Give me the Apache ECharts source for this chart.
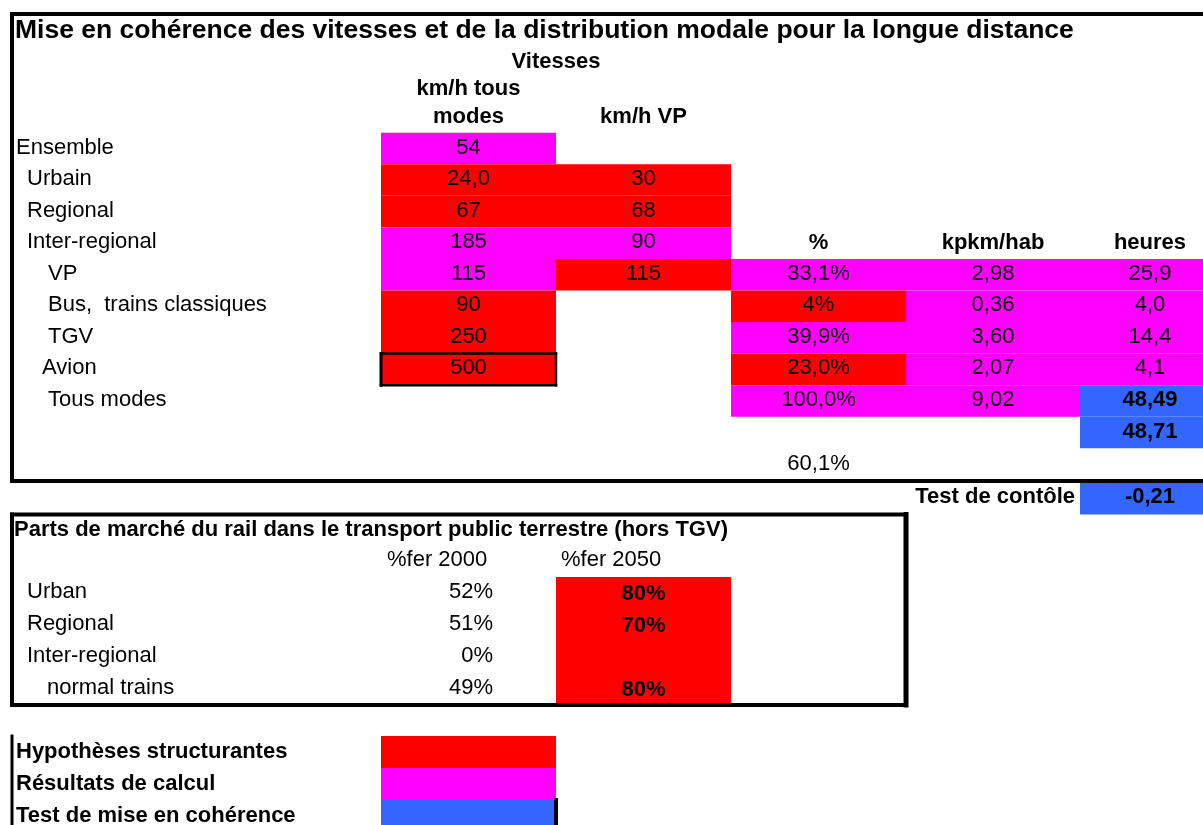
<!DOCTYPE html>
<html>
<head>
<meta charset="utf-8">
<title>Mise en cohérence des vitesses</title>
<script src="https://cdn.jsdelivr.net/npm/echarts@6/dist/echarts.min.js"></script>
<style>
  html, body { margin: 0; padding: 0; background: #fff; }
  #chart { width: 1203px; height: 825px; }
</style>
</head>
<body>
<div id="chart"></div>
<script>
// données du tableau (valeurs telles qu'affichées)
const title = 'Mise en cohérence des vitesses et de la distribution modale pour la longue distance';
const rowLabels = ['Ensemble', 'Urbain', 'Regional', 'Inter-regional', 'VP', 'Bus,  trains classiques', 'TGV', 'Avion', 'Tous modes'];
const speedAllModes = ['54', '24,0', '67', '185', '115', '90', '250', '500', ''];
const speedAllKind  = ['res', 'hyp', 'hyp', 'res', 'res', 'hyp', 'hyp', 'hyp', ''];
const speedVP       = ['', '30', '68', '90', '115', '', '', '', ''];
const speedVPKind   = ['', 'hyp', 'hyp', 'res', 'hyp', '', '', '', ''];
// lignes VP .. Tous modes
const modalShare = ['33,1%', '4%', '39,9%', '23,0%', '100,0%'];
const modalKind  = ['res', 'hyp', 'res', 'hyp', 'res'];
const kpkmPerHab = ['2,98', '0,36', '3,60', '2,07', '9,02'];
const hours      = ['25,9', '4,0', '14,4', '4,1', '48,49'];
const hoursKind  = ['res', 'res', 'res', 'res', 'test'];
const hoursCheck = '48,71';
const railShareTotal = '60,1%';
const controlTest = '-0,21';

const railTitle = 'Parts de marché du rail dans le transport public terrestre (hors TGV)';
const railLabels = ['Urban', 'Regional', 'Inter-regional', 'normal trains'];
const rail2000 = ['52%', '51%', '0%', '49%'];
const rail2050 = ['80%', '70%', '', '80%'];

const legendLabels = ['Hypothèses structurantes', 'Résultats de calcul', 'Test de mise en cohérence'];
const legendKinds = ['hyp', 'res', 'test'];

// mise en page de la feuille
const COL_X = [12, 381, 556, 731, 906, 1080, 1220];
const ROW_Y = [14, 47, 76, 101, 132.7, 164.3, 195.8, 227.4, 258.9, 290.5, 322.1, 353.6, 385.2,
               416.7, 448.3, 481, 514.5, 545, 577, 609, 641, 673, 705, 736, 768, 800, 832];
const LABEL_X = [16, 27, 27, 27, 48, 48, 48, 42, 48];
const RAIL_LABEL_X = [27, 27, 27, 47];
const FILL = { hyp: '#ff0000', res: '#ff00ff', test: '#3366ff' };
const FONT = '"Liberation Sans", Arial, sans-serif';

const cells = [];
const cell = (col, row, text, o = {}) => cells.push(Object.assign({ col, row, text, span: 1, align: 'center', size: 22, dy: 0 }, o));

// tableau principal
cell(0, 0, title, { align: 'left', x: 15, bold: true, size: 26.5 });
cell(1, 1, 'Vitesses', { span: 2, bold: true });
cell(1, 2, 'km/h tous', { bold: true });
cell(1, 3, 'modes', { bold: true });
cell(2, 3, 'km/h VP', { bold: true });
cell(3, 7, '%', { bold: true });
cell(4, 7, 'kpkm/hab', { bold: true });
cell(5, 7, 'heures', { bold: true });
rowLabels.forEach((t, i) => {
  const r = 4 + i;
  cell(0, r, t, { align: 'left', x: LABEL_X[i], dy: -1 });
  cell(1, r, speedAllModes[i], { kind: speedAllKind[i], dy: -1 });
  cell(2, r, speedVP[i], { kind: speedVPKind[i], dy: -1 });
});
modalShare.forEach((t, i) => {
  const r = 8 + i;
  cell(3, r, t, { kind: modalKind[i], dy: -1 });
  cell(4, r, kpkmPerHab[i], { kind: 'res', dy: -1 });
  cell(5, r, hours[i], { kind: hoursKind[i], bold: hoursKind[i] === 'test', dy: -1 });
});
cell(5, 13, hoursCheck, { kind: 'test', bold: true, dy: -1 });
cell(3, 14, railShareTotal, { dy: -1 });
cell(4, 15, 'Test de contôle', { align: 'right', x: 1075, bold: true, dy: -1 });
cell(5, 15, controlTest, { kind: 'test', bold: true, dy: -1 });

// parts de marché du rail
cell(0, 16, railTitle, { align: 'left', x: 14, bold: true });
cell(0, 17, '%fer 2000', { align: 'left', x: 387, dy: -1 });
cell(0, 17, '%fer 2050', { align: 'left', x: 561, dy: -1 });
railLabels.forEach((t, i) => {
  const r = 18 + i;
  cell(0, r, t, { align: 'left', x: RAIL_LABEL_X[i], dy: -1.5 });
  cell(0, r, rail2000[i], { align: 'right', x: 493, dy: -1.5 });
  cell(2, r, rail2050[i], { kind: 'hyp', bold: true, dy: 1 });
});

// légende
legendLabels.forEach((t, i) => {
  cell(0, 23 + i, t, { align: 'left', x: 16, bold: true });
  cell(1, 23 + i, '', { kind: legendKinds[i] });
});

// cadres : [col0, row0, col1, row1, épaisseur]
const frames = [
  [0, 0, 6, 0, 4], [0, 0, 0, 15, 4], [0, 15, 6, 15, 4],
  [0, 16, 4, 16, 4], [0, 16, 0, 22, 4], [4, 16, 4, 22, 5], [0, 22, 4, 22, 4],
  [1, 11, 2, 11, 2.5], [1, 12, 2, 12, 2.5], [1, 11, 1, 12, 3], [2, 11, 2, 12, 2.5],
  [0, 23, 0, 26, 3], [2, 25, 2, 26, 4]
];

const chart = echarts.init(document.getElementById('chart'), null, { renderer: 'canvas' });
chart.setOption({
  animation: false,
  backgroundColor: '#fff',
  grid: { left: 0, right: 0, top: 0, bottom: 0 },
  xAxis: { type: 'value', min: 0, max: 1203, show: false },
  yAxis: { type: 'value', min: 0, max: 825, inverse: true, show: false },
  series: [
    {
      type: 'custom',
      name: 'cellules',
      clip: false,
      data: cells.map(c => [COL_X[c.col], ROW_Y[c.row]]),
      renderItem: (params, api) => {
        const c = cells[params.dataIndex];
        const p0 = api.coord([COL_X[c.col], ROW_Y[c.row]]);
        const p1 = api.coord([COL_X[c.col + c.span], ROW_Y[c.row + 1]]);
        const children = [];
        if (c.kind) {
          children.push({
            type: 'rect',
            shape: { x: p0[0], y: p0[1], width: p1[0] - p0[0], height: p1[1] - p0[1] },
            style: { fill: FILL[c.kind] }
          });
        }
        if (c.text) {
          const tx = c.align === 'center' ? (p0[0] + p1[0]) / 2 : api.coord([c.x, 0])[0];
          children.push({
            type: 'text',
            style: {
              text: c.text,
              x: tx,
              y: (p0[1] + p1[1]) / 2 + c.dy,
              align: c.align, textAlign: c.align,
              verticalAlign: 'middle', textVerticalAlign: 'middle',
              fill: '#000',
              font: (c.bold ? 'bold ' : '') + c.size + 'px ' + FONT
            }
          });
        }
        return { type: 'group', children };
      }
    },
    {
      type: 'custom',
      name: 'cadres',
      clip: false,
      data: frames,
      renderItem: (params, api) => {
        const f = frames[params.dataIndex];
        const a = api.coord([COL_X[f[0]], ROW_Y[f[1]]]);
        const b = api.coord([COL_X[f[2]], ROW_Y[f[3]]]);
        return {
          type: 'line',
          shape: { x1: a[0], y1: a[1], x2: b[0], y2: b[1] },
          style: { stroke: '#000', lineWidth: f[4], lineCap: 'square' }
        };
      }
    }
  ]
});
</script>
</body>
</html>
